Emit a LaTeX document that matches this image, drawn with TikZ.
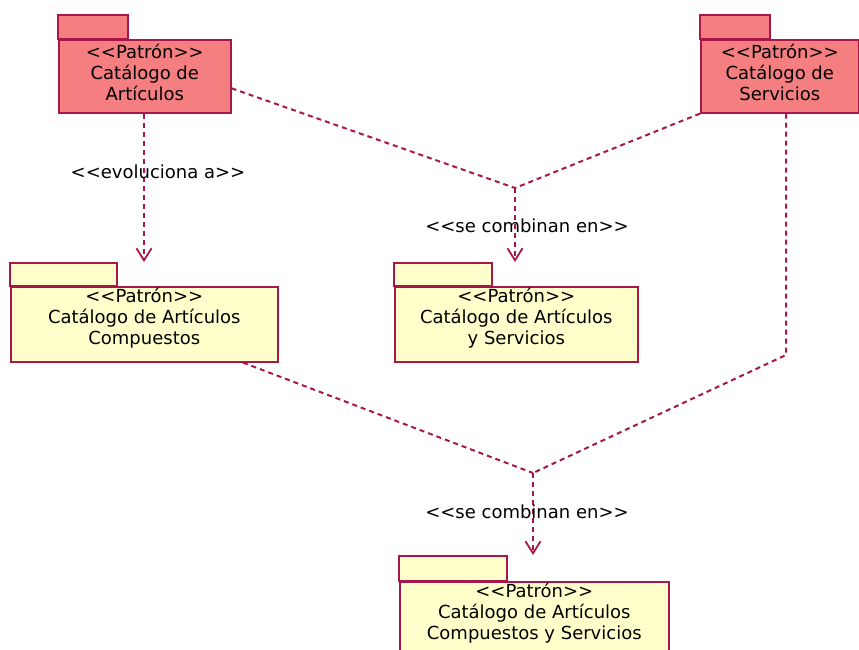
\documentclass[tikz,border=0pt]{standalone}
\usepackage{fontspec}
\newfontfamily\umlfont{DejaVu Sans}
\usetikzlibrary{arrows.meta}
\definecolor{umlred}{HTML}{F47E80}
\definecolor{umlyellow}{HTML}{FFFFCC}
\definecolor{umlline}{HTML}{A8174A}
\tikzset{
  pkgbody/.style={draw=umlline, line width=1.6pt, rectangle, inner sep=0pt, anchor=north west},
  pkgtext/.style={font=\umlfont\fontsize{18}{21}\selectfont, align=center, inner sep=0pt, anchor=north, text=black},
  deplabel/.style={font=\umlfont\fontsize{18}{21}\selectfont, inner sep=0pt, text=black},
  dep/.style={draw=umlline, line width=2pt, dash pattern=on 5pt off 4pt},
  deparrow/.style={dep, -{Straight Barb[length=12pt,width=15pt,line width=1.8pt]}},
}
\begin{document}
\begin{tikzpicture}[x=1pt,y=-1pt]
  \useasboundingbox (0,0) rectangle (859,649);
  \clip (0,0) rectangle (859,649);

  % package: Catalogo de Articulos
  \node[pkgbody, fill=umlred, minimum width=172pt, minimum height=73pt] (p1) at (58,39) {};
  \draw[pkgbody, fill=umlred] (p1.north west) rectangle ++(70,-24);
  \node[pkgtext] (p1t) at ([yshift=-5pt]p1.north) {{<}{<}Patrón{>}{>}\\Catálogo de\\Artículos};

  % package: Catalogo de Servicios
  \node[pkgbody, fill=umlred, minimum width=158pt, minimum height=73pt] (p2) at (700,39) {};
  \draw[pkgbody, fill=umlred] (p2.north west) rectangle ++(70,-24);
  \node[pkgtext] (p2t) at ([yshift=-5pt]p2.north) {{<}{<}Patrón{>}{>}\\Catálogo de\\Servicios};

  % package: Catalogo de Articulos Compuestos
  \node[pkgbody, fill=umlyellow, minimum width=267pt, minimum height=75pt] (p3) at (10,286) {};
  \draw[pkgbody, fill=umlyellow] (p3.north west) rectangle ++(107,-23);
  \node[pkgtext] (p3t) at ([yshift=-2pt]p3.north) {{<}{<}Patrón{>}{>}\\Catálogo de Artículos\\Compuestos};

  % package: Catalogo de Articulos y Servicios
  \node[pkgbody, fill=umlyellow, minimum width=243pt, minimum height=75pt] (p4) at (394,286) {};
  \draw[pkgbody, fill=umlyellow] (p4.north west) rectangle ++(98,-23);
  \node[pkgtext] (p4t) at ([yshift=-2pt]p4.north) {{<}{<}Patrón{>}{>}\\Catálogo de Artículos\\y Servicios};

  % package: Catalogo de Articulos Compuestos y Servicios
  \node[pkgbody, fill=umlyellow, minimum width=269pt, minimum height=90pt] (p5) at (399,581) {};
  \draw[pkgbody, fill=umlyellow] (p5.north west) rectangle ++(108,-25);
  \node[pkgtext] (p5t) at ([yshift=-2pt]p5.north) {{<}{<}Patrón{>}{>}\\Catálogo de Artículos\\Compuestos y Servicios};

  % junction points and arrow ends
  \coordinate (j1) at (515,188);
  \coordinate (j2) at (533,473);
  \coordinate (e3) at (144,262);
  \coordinate (e4) at (515,262);
  \coordinate (e5) at (533,555);
  \coordinate (bend) at (786,355);

  % evoluciona a
  \draw[deparrow] (p1.south -| e3) -- (e3);
  \node[deplabel] (l1) at (158,172) {{<}{<}evoluciona a{>}{>}};

  % se combinan en (upper)
  \draw[dep] ([yshift=-12pt]p1.east) -- (j1);
  \draw[dep] (p2.south west) -- (j1);
  \draw[deparrow] (j1) -- (e4);
  \node[deplabel] (l2) at (527,226) {{<}{<}se combinan en{>}{>}};

  % se combinan en (lower)
  \draw[dep] (p3.south -| 243,0) -- (j2);
  \draw[dep] (p2.south -| bend) -- (bend) -- (j2);
  \draw[deparrow] (j2) -- (e5);
  \node[deplabel] (l3) at (527,512) {{<}{<}se combinan en{>}{>}};
\end{tikzpicture}
\end{document}
